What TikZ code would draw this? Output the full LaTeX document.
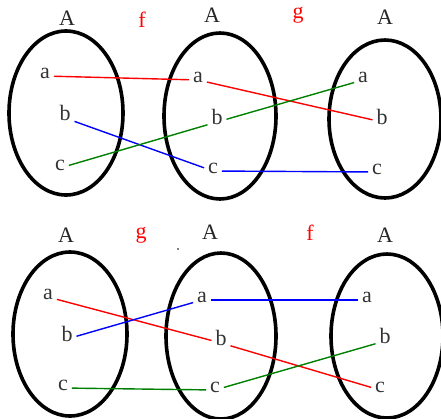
\documentclass[tikz,border=0pt]{standalone}
\usepackage{fontspec}
\setmainfont{Liberation Serif}
\usetikzlibrary{positioning}
\definecolor{mapRed}{HTML}{FF0000}
\definecolor{mapBlue}{HTML}{0000FF}
\definecolor{mapGreen}{HTML}{008000}

\begin{document}
\begin{tikzpicture}[x=1pt,y=-1pt,
    font=\fontsize{22}{26}\selectfont,
    setline/.style={draw=black,line width=3.6pt},
    elem/.style={inner sep=4pt,outer sep=0pt,text height=1.1ex,text depth=0pt,text=black!80},
    title/.style={inner sep=0pt,text=black!85},
    fname/.style={inner sep=0pt,text=mapRed},
    link/.style={line width=1.4pt}]
  \useasboundingbox (0,0) rectangle (441,418);
  % upper row: f then g
  \draw[setline] (66,113) ellipse [x radius=57pt,y radius=82pt];
  \draw[setline] (220,116) ellipse [x radius=56pt,y radius=83pt];
  \draw[setline] (385,119) ellipse [x radius=56pt,y radius=79pt];
  \node[title] (tA1) at (67,18) {A};
  \node[title] (tA2) at (212,15) {A};
  \node[title] (tA3) at (385,17) {A};
  \node[fname] (tf) at (142,20) {f};
  \node[fname] (tg) at (298,15) {g};
  \node[elem] (ta1) at (45,76) {a};
  \node[elem] (tb1) at (65,118) {b};
  \node[elem] (tc1) at (60,168) {c};
  \node[elem] (ta2) at (198,80) {a};
  \node[elem] (tb2) at (217,122) {b};
  \node[elem] (tc2) at (213,171) {c};
  \node[elem] (ta3) at (363,80) {a};
  \node[elem] (tb3) at (382,122) {b};
  \node[elem] (tc3) at (377,172) {c};
  \draw[link,mapRed] (ta1) -- (ta2);
  \draw[link,mapBlue] (tb1) -- (tc2);
  \draw[link,mapGreen] (tc1) -- (tb2);
  \draw[link,mapRed] (ta2) -- (tb3);
  \draw[link,mapGreen] (tb2) -- (ta3);
  \draw[link,mapBlue] (tc2) -- (tc3);
  % lower row: g then f
  \draw[setline] (70,334) ellipse [x radius=57pt,y radius=82pt];
  \draw[setline] (221,336) ellipse [x radius=55pt,y radius=83pt];
  \draw[setline] (387,336) ellipse [x radius=56pt,y radius=82pt];
  \node[title] (bA1) at (66,235) {A};
  \node[title] (bA2) at (210,232) {A};
  \node[title] (bA3) at (385,235) {A};
  \node[fname] (bg) at (141,235) {g};
  \node[fname] (bf) at (310,233) {f};
  \fill (178,249) circle (0.8pt);
  \node[elem] (ba1) at (48,297) {a};
  \node[elem] (bb1) at (67,339) {b};
  \node[elem] (bc1) at (63,388) {c};
  \node[elem] (ba2) at (202,300) {a};
  \node[elem] (bb2) at (221,343) {b};
  \node[elem] (bc2) at (215,390) {c};
  \node[elem] (ba3) at (367,300) {a};
  \node[elem] (bb3) at (385,341) {b};
  \node[elem] (bc3) at (380,390) {c};
  \draw[link,mapRed] (ba1) -- (bb2);
  \draw[link,mapBlue] (bb1) -- (ba2);
  \draw[link,mapGreen] (bc1) -- (bc2);
  \draw[link,mapBlue] (ba2) -- (ba3);
  \draw[link,mapRed] (bb2) -- (bc3);
  \draw[link,mapGreen] (bc2) -- (bb3);
\end{tikzpicture}
\end{document}
